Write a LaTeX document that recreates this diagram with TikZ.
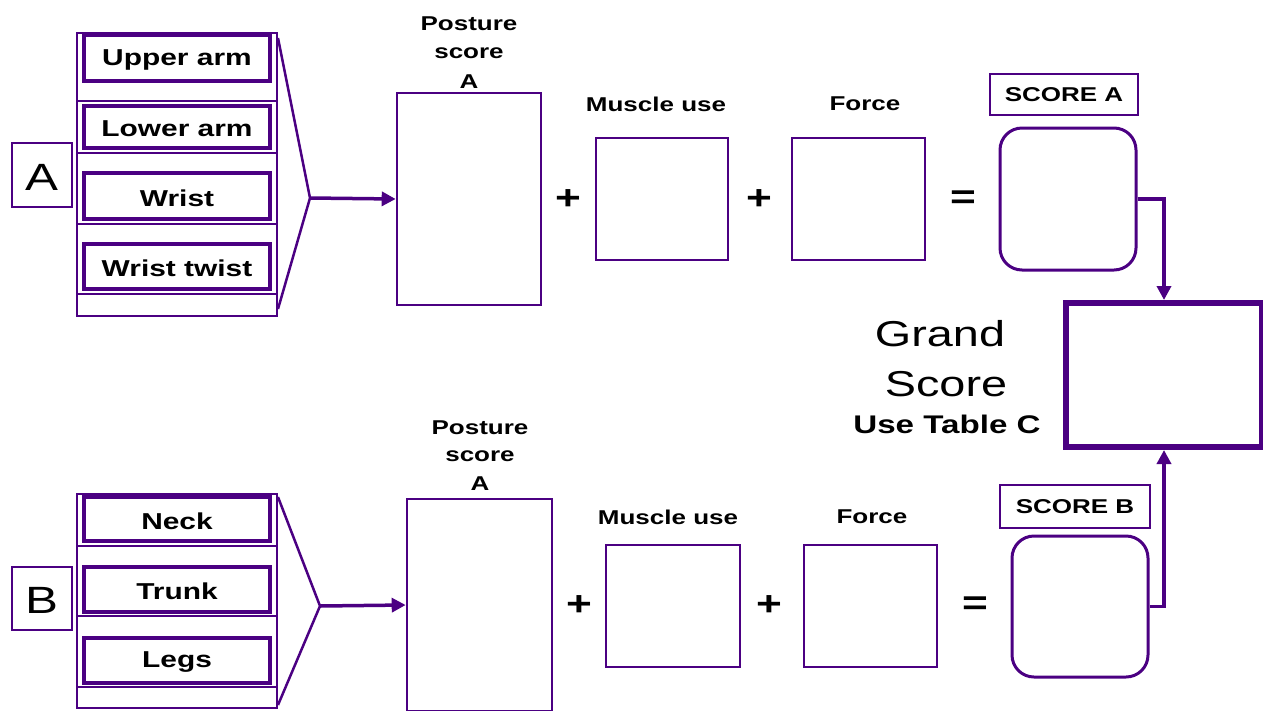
\documentclass[tikz,border=0pt]{standalone}
\usepackage{fontspec}
\setmainfont{Liberation Sans}
\usetikzlibrary{arrows.meta}
\definecolor{pur}{RGB}{75,0,130}
\tikzset{
  thinbox/.style={draw=pur, line width=2pt, inner sep=0pt, fill=white},
  thickbox/.style={draw=pur, line width=3.5pt, inner sep=0pt, fill=white},
  midbox/.style={draw=pur, line width=2.6pt, inner sep=0pt},
  lbl/.style={font=\bfseries\fontsize{20}{29}\selectfont, xscale=1.3, transform shape, inner sep=0pt, align=center},
  itemlbl/.style={font=\bfseries\fontsize{23}{26}\selectfont, xscale=1.3, transform shape, inner sep=0pt, yshift=-2pt},
  bigletter/.style={font=\fontsize{38}{40}\selectfont, xscale=1.3, transform shape, inner sep=0pt},
  opsym/.style={font=\bfseries\fontsize{34}{36}\selectfont, xscale=1.3, transform shape, inner sep=0pt},
  conn/.style={draw=pur, line width=3.5pt},
  arr/.style={conn, -{Triangle[length=14pt,width=14pt]}},
  stripline/.style={draw=pur, line width=1.5pt}
}
\begin{document}
\begin{tikzpicture}[x=1pt,y=-1pt]
\useasboundingbox (0,0) rectangle (1263,710);
% ---------- Row A ----------
\node[thinbox, minimum width=60pt, minimum height=64pt] (Abox) at (42,175) {};
\node[bigletter] (Alet) at (42,177) {A};
\node[thinbox, minimum width=200pt, minimum height=283pt] (outerA) at (177,174.5) {};
\draw[stripline] (outerA.west |- 0,101) -- (outerA.east |- 0,101);
\draw[stripline] (outerA.west |- 0,153) -- (outerA.east |- 0,153);
\draw[stripline] (outerA.west |- 0,224) -- (outerA.east |- 0,224);
\draw[stripline] (outerA.west |- 0,294) -- (outerA.east |- 0,294);
\node[thickbox, minimum width=186pt, minimum height=46pt] (upper) at (177,58) {};
\node[itemlbl] at (upper) {Upper arm};
\node[thickbox, minimum width=186pt, minimum height=42pt] (lower) at (177,127) {};
\node[itemlbl] at (lower) {Lower arm};
\node[thickbox, minimum width=186pt, minimum height=46pt] (wrist) at (177,196) {};
\node[itemlbl] at (wrist) {Wrist};
\node[thickbox, minimum width=186pt, minimum height=45pt] (twist) at (177,266.5) {};
\node[itemlbl] at (twist) {Wrist twist};
\coordinate (fanA) at (310,198);
\draw[conn, line width=2.5pt] ([yshift=-6pt]outerA.north east) -- (fanA) -- ([yshift=8pt]outerA.south east);
\node[midbox, minimum width=144pt, minimum height=212pt] (postA) at (469,199) {};
\draw[arr] (fanA) -- (postA.west);
\node[lbl] (postAl1) at (469,24) {Posture};
\node[lbl] (postAl2) at (469,53) {score};
\node[lbl] (postAl3) at (469,82) {A};
\node[opsym] (plusA1) at (568,200) {+};
\node[midbox, minimum width=132pt, minimum height=122pt] (muscA) at (662,199) {};
\node[lbl] (muscAl) at (656,104) {Muscle use};
\node[opsym] (plusA2) at (759,200) {+};
\node[midbox, minimum width=133pt, minimum height=122pt] (forceA) at (858.5,199) {};
\node[lbl] (forceAl) at (865,104) {Force};
\node[opsym] (eqA) at (963,200) {=};
\node[midbox, minimum width=148pt, minimum height=41pt] (scoreAl) at (1064,94.5) {};
\node[lbl] at (scoreAl) {SCORE A};
\node[midbox, line width=3pt, rounded corners=22pt, minimum width=136pt, minimum height=142pt] (resA) at (1068,199) {};
% ---------- Grand ----------
\node[draw=pur, line width=6pt, inner sep=0pt, minimum width=196pt, minimum height=144pt] (grand) at (1164,375) {};
\node[font=\fontsize{36}{38}\selectfont, xscale=1.3, transform shape, inner sep=0pt] (gr1) at (940,334) {Grand};
\node[font=\fontsize{36}{38}\selectfont, xscale=1.3, transform shape, inner sep=0pt] (gr2) at (946,384) {Score};
\node[font=\bfseries\fontsize{25.5}{28}\selectfont, xscale=1.3, transform shape, inner sep=0pt] (gr3) at (947,424) {Use Table C};
\draw[arr] (resA.east) -| (grand.north);
% ---------- Row B ----------
\node[thinbox, minimum width=60pt, minimum height=63pt] (Bbox) at (42,598.5) {};
\node[bigletter] (Blet) at (42,600) {B};
\node[thinbox, minimum width=200pt, minimum height=214pt] (outerB) at (177,601) {};
\draw[stripline] (outerB.west |- 0,546) -- (outerB.east |- 0,546);
\draw[stripline] (outerB.west |- 0,616) -- (outerB.east |- 0,616);
\draw[stripline] (outerB.west |- 0,687) -- (outerB.east |- 0,687);
\node[thickbox, minimum width=186pt, minimum height=44pt] (neck) at (177,519) {};
\node[itemlbl] at (neck) {Neck};
\node[thickbox, minimum width=186pt, minimum height=45pt] (trunk) at (177,589.5) {};
\node[itemlbl] at (trunk) {Trunk};
\node[thickbox, minimum width=186pt, minimum height=45pt] (legs) at (177,660.5) {};
\node[itemlbl] at (legs) {Legs};
\coordinate (fanB) at (320,606);
\draw[conn, line width=2.5pt] ([yshift=-4pt]outerB.north east) -- (fanB) -- ([yshift=4pt]outerB.south east);
\node[midbox, minimum width=145pt, minimum height=212pt] (postB) at (479.5,605) {};
\draw[arr] (fanB) -- (postB.west);
\node[lbl] (postBl1) at (480,428) {Posture};
\node[lbl] (postBl2) at (480,456) {score};
\node[lbl] (postBl3) at (480,484) {A};
\node[opsym] (plusB1) at (579,606) {+};
\node[midbox, minimum width=134pt, minimum height=122pt] (muscB) at (673,606) {};
\node[lbl] (muscBl) at (668,517) {Muscle use};
\node[opsym] (plusB2) at (769,606) {+};
\node[midbox, minimum width=133pt, minimum height=122pt] (forceB) at (870.5,606) {};
\node[lbl] (forceBl) at (872,517) {Force};
\node[opsym] (eqB) at (975,606) {=};
\node[midbox, minimum width=150pt, minimum height=43pt] (scoreBl) at (1075,506.5) {};
\node[lbl] at (scoreBl) {SCORE B};
\node[midbox, line width=3pt, rounded corners=22pt, minimum width=136pt, minimum height=141pt] (resB) at (1080,606.5) {};
\draw[arr] (resB.east) -| (grand.south);
\end{tikzpicture}
\end{document}
